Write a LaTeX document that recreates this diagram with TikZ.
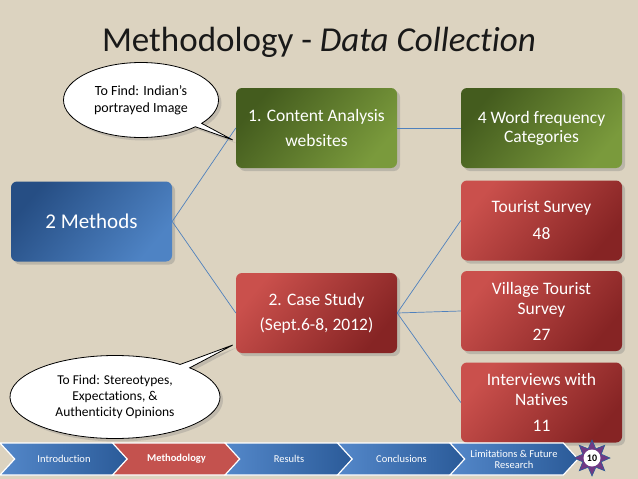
\documentclass[tikz,border=0pt]{standalone}
\usepackage{fontspec}
\setmainfont{Carlito}[Ligatures={NoCommon}]
\usepackage{xcolor}
\usepackage{tikz}
\usetikzlibrary{shapes,shadows,positioning}
\definecolor{bgbeige}{RGB}{220, 211, 192}
\definecolor{linkblue}{RGB}{79, 129, 189}
\definecolor{methdark}{RGB}{38, 78, 132}
\definecolor{methlight}{RGB}{78, 131, 196}
\definecolor{greendark}{RGB}{68, 92, 30}
\definecolor{greenlight}{RGB}{122, 154, 60}
\definecolor{redlight}{RGB}{202, 80, 76}
\definecolor{reddark}{RGB}{134, 36, 36}
\definecolor{navblue}{RGB}{84, 136, 202}
\definecolor{navbluedark}{RGB}{42, 90, 152}
\definecolor{navred}{RGB}{196, 82, 78}
\definecolor{navreddark}{RGB}{136, 38, 38}
\definecolor{badgepurple}{RGB}{112, 58, 132}

\tikzset{
  box/.style={rounded corners=6pt, minimum width=161pt, minimum height=80pt, align=center, text=white,
    font=\fontsize{17.5}{25}\selectfont, drop shadow={shadow xshift=3pt, shadow yshift=-3pt, opacity=0.35}},
  bluebox/.style={box, top color=methdark, bottom color=methlight, shading angle=50},
  greenbox/.style={box, top color=greendark, bottom color=greenlight, shading angle=50},
  redbox/.style={box, top color=redlight, middle color=redlight!85!reddark, bottom color=reddark, shading angle=50},
  bubble/.style={ellipse callout, callout pointer arc=7, draw=black, line width=0.8pt, fill=white, align=center,
    font=\fontsize{14}{17}\selectfont, drop shadow={shadow xshift=3pt, shadow yshift=-3pt, opacity=0.3}},
  link/.style={draw=linkblue, line width=0.7pt},
  chev/.style={signal, signal from=west, signal to=east, signal pointer angle=95, minimum width=128pt,
    minimum height=32pt, inner sep=0pt, draw=white, line width=1.2pt, text=white, align=center,
    font=\fontsize{10.5}{11}\selectfont, left color=navblue, right color=navbluedark},
  chevred/.style={chev, left color=navred, middle color=navreddark, right color=navred,
    font=\fontsize{10.5}{11}\selectfont\bfseries}
}

\begin{document}
\begin{tikzpicture}[x=1pt, y=-1pt]
    \useasboundingbox (0,0) rectangle (638,479);
    \fill[bgbeige] (0,0) rectangle (638,479);

    % Title
    \node[anchor=base, font=\fontsize{35}{40}\selectfont, text=black!90] (title) at (319,51) {Methodology - \textit{Data Collection}};

    % Method boxes
    \node[bluebox, font=\fontsize{21}{25}\selectfont] (meth) at (91.5,221.5) {2 Methods};
    \node[greenbox] (ca) at (316.5,128) {1. Content Analysis\\websites};
    \node[redbox] (cs) at (316.5,313) {2. Case Study\\(Sept.6-8, 2012)};

    % Result boxes
    \node[greenbox, font=\fontsize{17.5}{19}\selectfont] (wf) at (541.5,128) {4 Word frequency\\Categories};
    \node[redbox] (ts) at (541.5,220.5) {Tourist Survey\\[2pt]48};
    \node[redbox, font=\fontsize{17.5}{20}\selectfont] (vts) at (541.5,311) {Village Tourist\\Survey\\[6pt]27};
    \node[redbox, font=\fontsize{17.5}{20}\selectfont] (itv) at (541.5,402.5) {Interviews with\\Natives\\[6pt]11};

    % Links
    \draw[link] (meth.east) -- (ca.west);
    \draw[link] (meth.east) -- (cs.west);
    \draw[link] (ca.east) -- (wf.west);
    \draw[link] (cs.east) -- (ts.west);
    \draw[link] (cs.east) -- (vts.west);
    \draw[link] (cs.east) -- (itv.west);

    % Callouts
    \node[bubble, minimum width=155pt, minimum height=75pt, callout absolute pointer={([xshift=-3pt, yshift=-12pt]ca.west)}] (findimg) at (141,100) {To Find: Indian's\\portrayed Image};
    \node[bubble, font=\fontsize{13.5}{16}\selectfont, minimum width=210pt, minimum height=83pt, callout absolute pointer={([xshift=-3pt, yshift=-32pt]cs.west)}] (findstereo) at (115,397) {To Find: Stereotypes,\\Expectations, \&\\Authenticity Opinions};

    % Navigation bar
    \node[chev] (intro) at (64,459) {Introduction};
    \node[chevred] (methnav) at (176.5,459) {Methodology};
    \node[chev] (results) at (289,459) {Results};
    \node[chev] (concl) at (401.5,459) {Conclusions};
    \node[chev] (limits) at (514,459) {Limitations \& Future\\Research};

    % Page badge
    \node[star, star points=8, star point ratio=1.8, minimum size=36pt, inner sep=0pt, fill=badgepurple, draw=navbluedark, line width=0.6pt] (badge) at (592,458) {};
    \node[circle, fill=white, minimum size=17pt, inner sep=0pt, font=\fontsize{10}{10}\selectfont\bfseries] (pagenum) at (badge.center) {10};
\end{tikzpicture}
\end{document}
